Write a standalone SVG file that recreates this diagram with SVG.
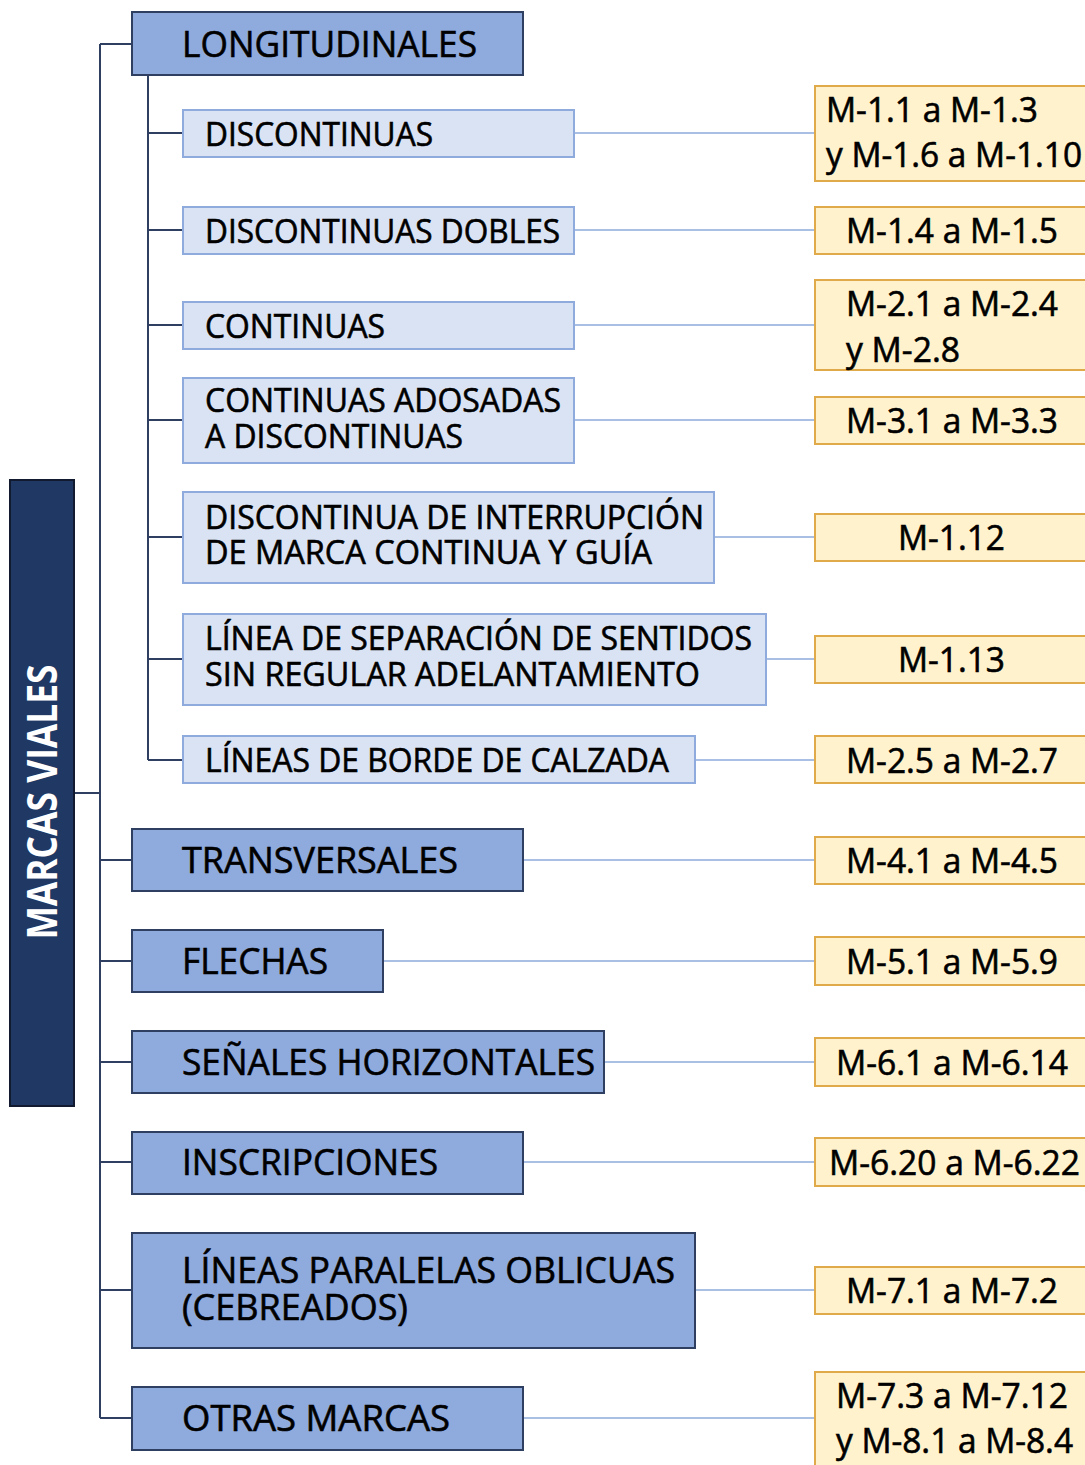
<svg xmlns="http://www.w3.org/2000/svg" width="1085" height="1465" viewBox="0 0 1085 1465">
<style>
.bg{fill:#ffffff}
.root{fill:#1f3864;stroke:#111a2e;stroke-width:2}
.l1{fill:#8faadc;stroke:#2f3f62;stroke-width:2}
.l2{fill:#dae3f3;stroke:#8faadc;stroke-width:2}
.r{fill:#fff2cc;stroke:#e0a94a;stroke-width:2}
.trunk{fill:none;stroke:#2f3f62;stroke-width:2}
.thin{fill:none;stroke:#8faadc;stroke-width:1.5}
text{font-family:"Open Sans","Noto Sans","Liberation Sans",sans-serif;fill:#000000;stroke:#000000;stroke-width:0.6}
.t1{font-size:36px}
.t2{font-size:33px}
.tr{font-size:34px}
.troot{font-size:41px;font-weight:bold;fill:#ffffff;stroke:none}
</style>
<rect class="bg" x="0" y="0" width="1085" height="1465"/>
<g id="connectors">
<path class="trunk" d="M74 793H100M100 44V1418M100 44H132M100 860H132M100 961H132M100 1062H132M100 1162H132M100 1290H132M100 1418H132"/>
<path class="trunk" d="M148 75V760M148 133H183M148 230H183M148 325H183M148 420H183M148 537H183M148 659H183M148 760H183"/>
<path class="thin" d="M574 133H815M574 230H815M574 325H815M574 420H815M714 537H815M766 659H815M695 760H815M523 860H815M383 961H815M604 1062H815M523 1162H815M695 1290H815M523 1418H815"/>
</g>
<g id="root">
<rect class="root" x="10" y="480" width="64" height="626"/>
<text class="troot" transform="translate(57 802) rotate(-90)" text-anchor="middle" textLength="275" lengthAdjust="spacingAndGlyphs">MARCAS VIALES</text>
</g>
<g id="longitudinales">
<rect class="l1" x="132" y="12" width="391" height="63"/>
<text class="t1" x="182" y="57" textLength="295" lengthAdjust="spacingAndGlyphs">LONGITUDINALES</text>
</g>
<g id="discontinuas">
<rect class="l2" x="183" y="110" width="391" height="47"/>
<text class="t2" x="205" y="146" textLength="228" lengthAdjust="spacingAndGlyphs">DISCONTINUAS</text>
</g>
<g id="discontinuas-dobles">
<rect class="l2" x="183" y="207" width="391" height="47"/>
<text class="t2" x="205" y="243" textLength="355" lengthAdjust="spacingAndGlyphs">DISCONTINUAS DOBLES</text>
</g>
<g id="continuas">
<rect class="l2" x="183" y="302" width="391" height="47"/>
<text class="t2" x="205" y="338" textLength="180" lengthAdjust="spacingAndGlyphs">CONTINUAS</text>
</g>
<g id="continuas-adosadas">
<rect class="l2" x="183" y="378" width="391" height="85"/>
<text class="t2"><tspan x="205" y="412" textLength="356" lengthAdjust="spacingAndGlyphs">CONTINUAS ADOSADAS</tspan><tspan x="205" y="448" textLength="258" lengthAdjust="spacingAndGlyphs">A DISCONTINUAS</tspan></text>
</g>
<g id="discontinua-interrupcion">
<rect class="l2" x="183" y="492" width="531" height="91"/>
<text class="t2"><tspan x="205" y="529" textLength="499" lengthAdjust="spacingAndGlyphs">DISCONTINUA DE INTERRUPCIÓN</tspan><tspan x="205" y="564" textLength="447" lengthAdjust="spacingAndGlyphs">DE MARCA CONTINUA Y GUÍA</tspan></text>
</g>
<g id="linea-separacion">
<rect class="l2" x="183" y="614" width="583" height="91"/>
<text class="t2"><tspan x="205" y="650" textLength="547" lengthAdjust="spacingAndGlyphs">LÍNEA DE SEPARACIÓN DE SENTIDOS</tspan><tspan x="205" y="686" textLength="495" lengthAdjust="spacingAndGlyphs">SIN REGULAR ADELANTAMIENTO</tspan></text>
</g>
<g id="lineas-borde">
<rect class="l2" x="183" y="736" width="512" height="47"/>
<text class="t2" x="205" y="772" textLength="464" lengthAdjust="spacingAndGlyphs">LÍNEAS DE BORDE DE CALZADA</text>
</g>
<g id="transversales">
<rect class="l1" x="132" y="829" width="391" height="62"/>
<text class="t1" x="182" y="873" textLength="276" lengthAdjust="spacingAndGlyphs">TRANSVERSALES</text>
</g>
<g id="flechas">
<rect class="l1" x="132" y="930" width="251" height="62"/>
<text class="t1" x="182" y="974" textLength="146" lengthAdjust="spacingAndGlyphs">FLECHAS</text>
</g>
<g id="senales-horizontales">
<rect class="l1" x="132" y="1031" width="472" height="62"/>
<text class="t1" x="182" y="1075" textLength="413" lengthAdjust="spacingAndGlyphs">SEÑALES HORIZONTALES</text>
</g>
<g id="inscripciones">
<rect class="l1" x="132" y="1132" width="391" height="62"/>
<text class="t1" x="182" y="1175" textLength="256" lengthAdjust="spacingAndGlyphs">INSCRIPCIONES</text>
</g>
<g id="lineas-paralelas">
<rect class="l1" x="132" y="1233" width="563" height="115"/>
<text class="t1"><tspan x="182" y="1283" textLength="493" lengthAdjust="spacingAndGlyphs">LÍNEAS PARALELAS OBLICUAS</tspan><tspan x="182" y="1320" textLength="226" lengthAdjust="spacingAndGlyphs">(CEBREADOS)</tspan></text>
</g>
<g id="otras-marcas">
<rect class="l1" x="132" y="1387" width="391" height="63"/>
<text class="t1" x="182" y="1431" textLength="268" lengthAdjust="spacingAndGlyphs">OTRAS MARCAS</text>
</g>
<g id="ref-1">
<rect class="r" x="815" y="86" width="280" height="95"/>
<text class="tr"><tspan x="826" y="122" textLength="212" lengthAdjust="spacingAndGlyphs">M-1.1 a M-1.3</tspan><tspan x="826" y="167" textLength="256" lengthAdjust="spacingAndGlyphs">y M-1.6 a M-1.10</tspan></text>
</g>
<g id="ref-2">
<rect class="r" x="815" y="207" width="280" height="47"/>
<text class="tr" x="846" y="243" textLength="212" lengthAdjust="spacingAndGlyphs">M-1.4 a M-1.5</text>
</g>
<g id="ref-3">
<rect class="r" x="815" y="280" width="280" height="90"/>
<text class="tr"><tspan x="846" y="316" textLength="212" lengthAdjust="spacingAndGlyphs">M-2.1 a M-2.4</tspan><tspan x="846" y="362" textLength="114" lengthAdjust="spacingAndGlyphs">y M-2.8</tspan></text>
</g>
<g id="ref-4">
<rect class="r" x="815" y="397" width="280" height="47"/>
<text class="tr" x="846" y="433" textLength="212" lengthAdjust="spacingAndGlyphs">M-3.1 a M-3.3</text>
</g>
<g id="ref-5">
<rect class="r" x="815" y="514" width="280" height="47"/>
<text class="tr" x="898" y="550" textLength="107" lengthAdjust="spacingAndGlyphs">M-1.12</text>
</g>
<g id="ref-6">
<rect class="r" x="815" y="636" width="280" height="47"/>
<text class="tr" x="898" y="672" textLength="107" lengthAdjust="spacingAndGlyphs">M-1.13</text>
</g>
<g id="ref-7">
<rect class="r" x="815" y="736" width="280" height="47"/>
<text class="tr" x="846" y="773" textLength="212" lengthAdjust="spacingAndGlyphs">M-2.5 a M-2.7</text>
</g>
<g id="ref-8">
<rect class="r" x="815" y="837" width="280" height="47"/>
<text class="tr" x="846" y="873" textLength="212" lengthAdjust="spacingAndGlyphs">M-4.1 a M-4.5</text>
</g>
<g id="ref-9">
<rect class="r" x="815" y="937" width="280" height="48"/>
<text class="tr" x="846" y="974" textLength="212" lengthAdjust="spacingAndGlyphs">M-5.1 a M-5.9</text>
</g>
<g id="ref-10">
<rect class="r" x="815" y="1038" width="280" height="48"/>
<text class="tr" x="836" y="1075" textLength="232" lengthAdjust="spacingAndGlyphs">M-6.1 a M-6.14</text>
</g>
<g id="ref-11">
<rect class="r" x="815" y="1138" width="280" height="48"/>
<text class="tr" x="829" y="1175" textLength="251" lengthAdjust="spacingAndGlyphs">M-6.20 a M-6.22</text>
</g>
<g id="ref-12">
<rect class="r" x="815" y="1267" width="280" height="47"/>
<text class="tr" x="846" y="1303" textLength="212" lengthAdjust="spacingAndGlyphs">M-7.1 a M-7.2</text>
</g>
<g id="ref-13">
<rect class="r" x="815" y="1372" width="280" height="110"/>
<text class="tr"><tspan x="836" y="1408" textLength="232" lengthAdjust="spacingAndGlyphs">M-7.3 a M-7.12</tspan><tspan x="836" y="1453" textLength="237" lengthAdjust="spacingAndGlyphs">y M-8.1 a M-8.4</tspan></text>
</g>
</svg>
